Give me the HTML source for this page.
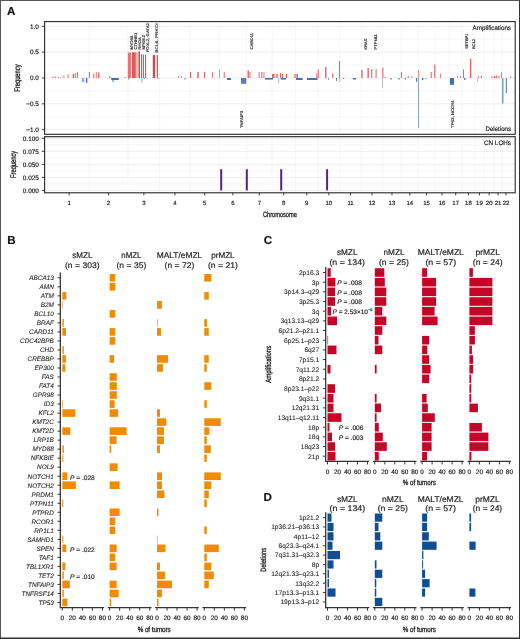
<!DOCTYPE html>
<html><head><meta charset="utf-8"><title>Figure</title>
<style>
html,body{margin:0;padding:0;background:#fff;}
svg{display:block;will-change:transform;}
text{font-family:"Liberation Sans",sans-serif;stroke:#222;stroke-width:0.18px;text-rendering:geometricPrecision;}
text.c{stroke-width:0.32px;}
text.l{stroke-width:0.08px;}
</style></head><body>
<svg width="520" height="639" viewBox="0 0 520 639" fill="#222">
<rect x="0" y="0" width="520" height="639" fill="#fff"/>
<text x="7.2" y="244" font-size="11.6" font-weight="bold" fill="#111">B</text>
<text x="82.3" y="258.4" font-size="8.2" text-anchor="middle" textLength="20.2" lengthAdjust="spacingAndGlyphs">sMZL</text>
<text x="82.3" y="268.2" font-size="8.2" text-anchor="middle" textLength="34.6" lengthAdjust="spacingAndGlyphs">(n = 303)</text>
<text x="131.4" y="258.4" font-size="8.2" text-anchor="middle" textLength="20.2" lengthAdjust="spacingAndGlyphs">nMZL</text>
<text x="131.4" y="268.2" font-size="8.2" text-anchor="middle" textLength="29.8" lengthAdjust="spacingAndGlyphs">(n = 35)</text>
<text x="179.5" y="258.4" font-size="8.2" text-anchor="middle" textLength="45.4" lengthAdjust="spacingAndGlyphs">MALT/eMZL</text>
<text x="179.5" y="268.2" font-size="8.2" text-anchor="middle" textLength="29.8" lengthAdjust="spacingAndGlyphs">(n = 72)</text>
<text x="222.9" y="258.4" font-size="8.2" text-anchor="middle" textLength="23.4" lengthAdjust="spacingAndGlyphs">prMZL</text>
<text x="222.9" y="268.2" font-size="8.2" text-anchor="middle" textLength="29.8" lengthAdjust="spacingAndGlyphs">(n = 21)</text>
<line x1="60.3" y1="272.6" x2="60.3" y2="608.2" stroke="#262626" stroke-width="1.2"/>
<line x1="57.5" y1="277.8" x2="60.3" y2="277.8" stroke="#262626" stroke-width="0.9"/>
<text x="53.8" y="280.1" font-size="6.4" text-anchor="end" font-style="italic" class="l">ABCA13</text>
<line x1="57.5" y1="286.82" x2="60.3" y2="286.82" stroke="#262626" stroke-width="0.9"/>
<text x="53.8" y="289.12" font-size="6.4" text-anchor="end" font-style="italic" class="l">AMN</text>
<line x1="57.5" y1="295.84" x2="60.3" y2="295.84" stroke="#262626" stroke-width="0.9"/>
<text x="53.8" y="298.14" font-size="6.4" text-anchor="end" font-style="italic" class="l">ATM</text>
<line x1="57.5" y1="304.85" x2="60.3" y2="304.85" stroke="#262626" stroke-width="0.9"/>
<text x="53.8" y="307.16" font-size="6.4" text-anchor="end" font-style="italic" class="l">B2M</text>
<line x1="57.5" y1="313.87" x2="60.3" y2="313.87" stroke="#262626" stroke-width="0.9"/>
<text x="53.8" y="316.18" font-size="6.4" text-anchor="end" font-style="italic" class="l">BCL10</text>
<line x1="57.5" y1="322.89" x2="60.3" y2="322.89" stroke="#262626" stroke-width="0.9"/>
<text x="53.8" y="325.19" font-size="6.4" text-anchor="end" font-style="italic" class="l">BRAF</text>
<line x1="57.5" y1="331.91" x2="60.3" y2="331.91" stroke="#262626" stroke-width="0.9"/>
<text x="53.8" y="334.21" font-size="6.4" text-anchor="end" font-style="italic" class="l">CARD11</text>
<line x1="57.5" y1="340.93" x2="60.3" y2="340.93" stroke="#262626" stroke-width="0.9"/>
<text x="53.8" y="343.23" font-size="6.4" text-anchor="end" font-style="italic" class="l">CDC42BPB</text>
<line x1="57.5" y1="349.94" x2="60.3" y2="349.94" stroke="#262626" stroke-width="0.9"/>
<text x="53.8" y="352.25" font-size="6.4" text-anchor="end" font-style="italic" class="l">CHD</text>
<line x1="57.5" y1="358.96" x2="60.3" y2="358.96" stroke="#262626" stroke-width="0.9"/>
<text x="53.8" y="361.27" font-size="6.4" text-anchor="end" font-style="italic" class="l">CREBBP</text>
<line x1="57.5" y1="367.98" x2="60.3" y2="367.98" stroke="#262626" stroke-width="0.9"/>
<text x="53.8" y="370.28" font-size="6.4" text-anchor="end" font-style="italic" class="l">EP300</text>
<line x1="57.5" y1="377" x2="60.3" y2="377" stroke="#262626" stroke-width="0.9"/>
<text x="53.8" y="379.3" font-size="6.4" text-anchor="end" font-style="italic" class="l">FAS</text>
<line x1="57.5" y1="386.02" x2="60.3" y2="386.02" stroke="#262626" stroke-width="0.9"/>
<text x="53.8" y="388.32" font-size="6.4" text-anchor="end" font-style="italic" class="l">FAT4</text>
<line x1="57.5" y1="395.03" x2="60.3" y2="395.03" stroke="#262626" stroke-width="0.9"/>
<text x="53.8" y="397.34" font-size="6.4" text-anchor="end" font-style="italic" class="l">GPR98</text>
<line x1="57.5" y1="404.05" x2="60.3" y2="404.05" stroke="#262626" stroke-width="0.9"/>
<text x="53.8" y="406.36" font-size="6.4" text-anchor="end" font-style="italic" class="l">ID3</text>
<line x1="57.5" y1="413.07" x2="60.3" y2="413.07" stroke="#262626" stroke-width="0.9"/>
<text x="53.8" y="415.37" font-size="6.4" text-anchor="end" font-style="italic" class="l">KFL2</text>
<line x1="57.5" y1="422.09" x2="60.3" y2="422.09" stroke="#262626" stroke-width="0.9"/>
<text x="53.8" y="424.39" font-size="6.4" text-anchor="end" font-style="italic" class="l">KMT2C</text>
<line x1="57.5" y1="431.11" x2="60.3" y2="431.11" stroke="#262626" stroke-width="0.9"/>
<text x="53.8" y="433.41" font-size="6.4" text-anchor="end" font-style="italic" class="l">KMT2D</text>
<line x1="57.5" y1="440.12" x2="60.3" y2="440.12" stroke="#262626" stroke-width="0.9"/>
<text x="53.8" y="442.43" font-size="6.4" text-anchor="end" font-style="italic" class="l">LRP1B</text>
<line x1="57.5" y1="449.14" x2="60.3" y2="449.14" stroke="#262626" stroke-width="0.9"/>
<text x="53.8" y="451.45" font-size="6.4" text-anchor="end" font-style="italic" class="l">MYD88</text>
<line x1="57.5" y1="458.16" x2="60.3" y2="458.16" stroke="#262626" stroke-width="0.9"/>
<text x="53.8" y="460.46" font-size="6.4" text-anchor="end" font-style="italic" class="l">NFKBIE</text>
<line x1="57.5" y1="467.18" x2="60.3" y2="467.18" stroke="#262626" stroke-width="0.9"/>
<text x="53.8" y="469.48" font-size="6.4" text-anchor="end" font-style="italic" class="l">NOL9</text>
<line x1="57.5" y1="476.2" x2="60.3" y2="476.2" stroke="#262626" stroke-width="0.9"/>
<text x="53.8" y="478.5" font-size="6.4" text-anchor="end" font-style="italic" class="l">NOTCH1</text>
<line x1="57.5" y1="485.21" x2="60.3" y2="485.21" stroke="#262626" stroke-width="0.9"/>
<text x="53.8" y="487.52" font-size="6.4" text-anchor="end" font-style="italic" class="l">NOTCH2</text>
<line x1="57.5" y1="494.23" x2="60.3" y2="494.23" stroke="#262626" stroke-width="0.9"/>
<text x="53.8" y="496.54" font-size="6.4" text-anchor="end" font-style="italic" class="l">PRDM1</text>
<line x1="57.5" y1="503.25" x2="60.3" y2="503.25" stroke="#262626" stroke-width="0.9"/>
<text x="53.8" y="505.55" font-size="6.4" text-anchor="end" font-style="italic" class="l">PTPN11</text>
<line x1="57.5" y1="512.27" x2="60.3" y2="512.27" stroke="#262626" stroke-width="0.9"/>
<text x="53.8" y="514.57" font-size="6.4" text-anchor="end" font-style="italic" class="l">PTPRD</text>
<line x1="57.5" y1="521.29" x2="60.3" y2="521.29" stroke="#262626" stroke-width="0.9"/>
<text x="53.8" y="523.59" font-size="6.4" text-anchor="end" font-style="italic" class="l">RCOR1</text>
<line x1="57.5" y1="530.3" x2="60.3" y2="530.3" stroke="#262626" stroke-width="0.9"/>
<text x="53.8" y="532.61" font-size="6.4" text-anchor="end" font-style="italic" class="l">RP1L1</text>
<line x1="57.5" y1="539.32" x2="60.3" y2="539.32" stroke="#262626" stroke-width="0.9"/>
<text x="53.8" y="541.63" font-size="6.4" text-anchor="end" font-style="italic" class="l">SAMHD1</text>
<line x1="57.5" y1="548.34" x2="60.3" y2="548.34" stroke="#262626" stroke-width="0.9"/>
<text x="53.8" y="550.64" font-size="6.4" text-anchor="end" font-style="italic" class="l">SPEN</text>
<line x1="57.5" y1="557.36" x2="60.3" y2="557.36" stroke="#262626" stroke-width="0.9"/>
<text x="53.8" y="559.66" font-size="6.4" text-anchor="end" font-style="italic" class="l">TAF1</text>
<line x1="57.5" y1="566.38" x2="60.3" y2="566.38" stroke="#262626" stroke-width="0.9"/>
<text x="53.8" y="568.68" font-size="6.4" text-anchor="end" font-style="italic" class="l">TBL1XR1</text>
<line x1="57.5" y1="575.39" x2="60.3" y2="575.39" stroke="#262626" stroke-width="0.9"/>
<text x="53.8" y="577.7" font-size="6.4" text-anchor="end" font-style="italic" class="l">TET2</text>
<line x1="57.5" y1="584.41" x2="60.3" y2="584.41" stroke="#262626" stroke-width="0.9"/>
<text x="53.8" y="586.72" font-size="6.4" text-anchor="end" font-style="italic" class="l">TNFAIP3</text>
<line x1="57.5" y1="593.43" x2="60.3" y2="593.43" stroke="#262626" stroke-width="0.9"/>
<text x="53.8" y="595.73" font-size="6.4" text-anchor="end" font-style="italic" class="l">TNFRSF14</text>
<line x1="57.5" y1="602.45" x2="60.3" y2="602.45" stroke="#262626" stroke-width="0.9"/>
<text x="53.8" y="604.75" font-size="6.4" text-anchor="end" font-style="italic" class="l">TP53</text>
<rect x="62.3" y="292.04" width="4" height="7.6" fill="#EF8B06"/>
<rect x="62.3" y="301.05" width="0.6" height="7.6" fill="#EF8B06"/>
<rect x="62.3" y="319.09" width="1.5" height="7.6" fill="#EF8B06"/>
<rect x="62.3" y="328.11" width="3.7" height="7.6" fill="#EF8B06"/>
<rect x="62.3" y="346.14" width="1.5" height="7.6" fill="#EF8B06"/>
<rect x="62.3" y="355.16" width="3.7" height="7.6" fill="#EF8B06"/>
<rect x="62.3" y="364.18" width="3" height="7.6" fill="#EF8B06"/>
<rect x="62.3" y="400.25" width="0.6" height="7.6" fill="#EF8B06"/>
<rect x="62.3" y="409.27" width="13" height="7.6" fill="#EF8B06"/>
<rect x="62.3" y="427.31" width="8" height="7.6" fill="#EF8B06"/>
<rect x="62.3" y="445.34" width="1.5" height="7.6" fill="#EF8B06"/>
<rect x="62.3" y="454.36" width="1" height="7.6" fill="#EF8B06"/>
<rect x="62.3" y="472.4" width="5" height="7.6" fill="#EF8B06"/>
<rect x="62.3" y="481.41" width="13.5" height="7.6" fill="#EF8B06"/>
<rect x="62.3" y="499.45" width="1" height="7.6" fill="#EF8B06"/>
<rect x="62.3" y="535.52" width="1" height="7.6" fill="#EF8B06"/>
<rect x="62.3" y="544.54" width="4" height="7.6" fill="#EF8B06"/>
<rect x="62.3" y="562.58" width="3" height="7.6" fill="#EF8B06"/>
<rect x="62.3" y="571.59" width="1.5" height="7.6" fill="#EF8B06"/>
<rect x="62.3" y="580.61" width="7.5" height="7.6" fill="#EF8B06"/>
<rect x="62.3" y="589.63" width="1.5" height="7.6" fill="#EF8B06"/>
<rect x="62.3" y="598.65" width="5" height="7.6" fill="#EF8B06"/>
<rect x="109.63" y="274" width="5.6" height="7.6" fill="#EF8B06"/>
<rect x="109.63" y="283.02" width="5.6" height="7.6" fill="#EF8B06"/>
<rect x="109.63" y="310.07" width="5.6" height="7.6" fill="#EF8B06"/>
<rect x="109.63" y="328.11" width="5.6" height="7.6" fill="#EF8B06"/>
<rect x="109.63" y="337.13" width="5.6" height="7.6" fill="#EF8B06"/>
<rect x="109.63" y="355.16" width="4.5" height="7.6" fill="#EF8B06"/>
<rect x="109.63" y="373.2" width="7.2" height="7.6" fill="#EF8B06"/>
<rect x="109.63" y="382.22" width="7.2" height="7.6" fill="#EF8B06"/>
<rect x="109.63" y="391.23" width="7.2" height="7.6" fill="#EF8B06"/>
<rect x="109.63" y="400.25" width="5" height="7.6" fill="#EF8B06"/>
<rect x="109.63" y="409.27" width="8.5" height="7.6" fill="#EF8B06"/>
<rect x="109.63" y="427.31" width="17" height="7.6" fill="#EF8B06"/>
<rect x="109.63" y="436.32" width="7" height="7.6" fill="#EF8B06"/>
<rect x="109.63" y="445.34" width="1.5" height="7.6" fill="#EF8B06"/>
<rect x="109.63" y="463.38" width="8" height="7.6" fill="#EF8B06"/>
<rect x="109.63" y="481.41" width="10" height="7.6" fill="#EF8B06"/>
<rect x="109.63" y="508.47" width="10" height="7.6" fill="#EF8B06"/>
<rect x="109.63" y="517.49" width="5.5" height="7.6" fill="#EF8B06"/>
<rect x="109.63" y="526.5" width="5.5" height="7.6" fill="#EF8B06"/>
<rect x="109.63" y="544.54" width="7" height="7.6" fill="#EF8B06"/>
<rect x="109.63" y="553.56" width="5.5" height="7.6" fill="#EF8B06"/>
<rect x="109.63" y="562.58" width="7" height="7.6" fill="#EF8B06"/>
<rect x="109.63" y="580.61" width="7" height="7.6" fill="#EF8B06"/>
<rect x="109.63" y="589.63" width="9" height="7.6" fill="#EF8B06"/>
<rect x="109.63" y="598.65" width="1.5" height="7.6" fill="#EF8B06"/>
<rect x="156.96" y="301.05" width="5" height="7.6" fill="#EF8B06"/>
<rect x="156.96" y="319.09" width="0.6" height="7.6" fill="#EF8B06"/>
<rect x="156.96" y="328.11" width="4" height="7.6" fill="#EF8B06"/>
<rect x="156.96" y="355.16" width="11" height="7.6" fill="#EF8B06"/>
<rect x="156.96" y="364.18" width="6" height="7.6" fill="#EF8B06"/>
<rect x="156.96" y="409.27" width="3" height="7.6" fill="#EF8B06"/>
<rect x="156.96" y="418.29" width="9.4" height="7.6" fill="#EF8B06"/>
<rect x="156.96" y="427.31" width="7" height="7.6" fill="#EF8B06"/>
<rect x="156.96" y="436.32" width="7" height="7.6" fill="#EF8B06"/>
<rect x="156.96" y="445.34" width="3" height="7.6" fill="#EF8B06"/>
<rect x="156.96" y="472.4" width="5" height="7.6" fill="#EF8B06"/>
<rect x="156.96" y="481.41" width="5" height="7.6" fill="#EF8B06"/>
<rect x="156.96" y="490.43" width="7.5" height="7.6" fill="#EF8B06"/>
<rect x="156.96" y="508.47" width="1.5" height="7.6" fill="#EF8B06"/>
<rect x="156.96" y="535.52" width="0.6" height="7.6" fill="#EF8B06"/>
<rect x="156.96" y="544.54" width="8.5" height="7.6" fill="#EF8B06"/>
<rect x="156.96" y="562.58" width="3" height="7.6" fill="#EF8B06"/>
<rect x="156.96" y="571.59" width="8" height="7.6" fill="#EF8B06"/>
<rect x="156.96" y="580.61" width="15" height="7.6" fill="#EF8B06"/>
<rect x="156.96" y="589.63" width="5" height="7.6" fill="#EF8B06"/>
<rect x="156.96" y="598.65" width="1.5" height="7.6" fill="#EF8B06"/>
<rect x="204.29" y="274" width="7" height="7.6" fill="#EF8B06"/>
<rect x="204.29" y="292.04" width="4.5" height="7.6" fill="#EF8B06"/>
<rect x="204.29" y="319.09" width="2.7" height="7.6" fill="#EF8B06"/>
<rect x="204.29" y="328.11" width="4.5" height="7.6" fill="#EF8B06"/>
<rect x="204.29" y="355.16" width="4.5" height="7.6" fill="#EF8B06"/>
<rect x="204.29" y="364.18" width="2.5" height="7.6" fill="#EF8B06"/>
<rect x="204.29" y="382.22" width="7" height="7.6" fill="#EF8B06"/>
<rect x="204.29" y="400.25" width="2.5" height="7.6" fill="#EF8B06"/>
<rect x="204.29" y="418.29" width="16.5" height="7.6" fill="#EF8B06"/>
<rect x="204.29" y="427.31" width="5" height="7.6" fill="#EF8B06"/>
<rect x="204.29" y="436.32" width="2.5" height="7.6" fill="#EF8B06"/>
<rect x="204.29" y="445.34" width="6.5" height="7.6" fill="#EF8B06"/>
<rect x="204.29" y="454.36" width="2.5" height="7.6" fill="#EF8B06"/>
<rect x="204.29" y="472.4" width="16.5" height="7.6" fill="#EF8B06"/>
<rect x="204.29" y="481.41" width="7" height="7.6" fill="#EF8B06"/>
<rect x="204.29" y="490.43" width="4.5" height="7.6" fill="#EF8B06"/>
<rect x="204.29" y="499.45" width="2.5" height="7.6" fill="#EF8B06"/>
<rect x="204.29" y="526.5" width="2.5" height="7.6" fill="#EF8B06"/>
<rect x="204.29" y="544.54" width="14.5" height="7.6" fill="#EF8B06"/>
<rect x="204.29" y="553.56" width="2.5" height="7.6" fill="#EF8B06"/>
<rect x="204.29" y="562.58" width="7" height="7.6" fill="#EF8B06"/>
<rect x="204.29" y="571.59" width="9.5" height="7.6" fill="#EF8B06"/>
<rect x="204.29" y="580.61" width="4.5" height="7.6" fill="#EF8B06"/>
<line x1="60.5" y1="607.6" x2="104.12" y2="607.6" stroke="#333" stroke-width="1.3"/>
<line x1="62.3" y1="607.6" x2="62.3" y2="610.6" stroke="#333" stroke-width="1"/>
<text x="62.3" y="619.8" font-size="6.4" text-anchor="middle">0</text>
<line x1="72.33" y1="607.6" x2="72.33" y2="610.6" stroke="#333" stroke-width="1"/>
<text x="72.33" y="619.8" font-size="6.4" text-anchor="middle">20</text>
<line x1="82.36" y1="607.6" x2="82.36" y2="610.6" stroke="#333" stroke-width="1"/>
<text x="82.36" y="619.8" font-size="6.4" text-anchor="middle">40</text>
<line x1="92.39" y1="607.6" x2="92.39" y2="610.6" stroke="#333" stroke-width="1"/>
<text x="92.39" y="619.8" font-size="6.4" text-anchor="middle">60</text>
<line x1="102.42" y1="607.6" x2="102.42" y2="610.6" stroke="#333" stroke-width="1"/>
<text x="102.42" y="619.8" font-size="6.4" text-anchor="middle">80</text>
<line x1="107.83" y1="607.6" x2="151.45" y2="607.6" stroke="#333" stroke-width="1.3"/>
<line x1="109.63" y1="607.6" x2="109.63" y2="610.6" stroke="#333" stroke-width="1"/>
<text x="109.63" y="619.8" font-size="6.4" text-anchor="middle">0</text>
<line x1="119.66" y1="607.6" x2="119.66" y2="610.6" stroke="#333" stroke-width="1"/>
<text x="119.66" y="619.8" font-size="6.4" text-anchor="middle">20</text>
<line x1="129.69" y1="607.6" x2="129.69" y2="610.6" stroke="#333" stroke-width="1"/>
<text x="129.69" y="619.8" font-size="6.4" text-anchor="middle">40</text>
<line x1="139.72" y1="607.6" x2="139.72" y2="610.6" stroke="#333" stroke-width="1"/>
<text x="139.72" y="619.8" font-size="6.4" text-anchor="middle">60</text>
<line x1="149.75" y1="607.6" x2="149.75" y2="610.6" stroke="#333" stroke-width="1"/>
<text x="149.75" y="619.8" font-size="6.4" text-anchor="middle">80</text>
<line x1="155.16" y1="607.6" x2="198.78" y2="607.6" stroke="#333" stroke-width="1.3"/>
<line x1="156.96" y1="607.6" x2="156.96" y2="610.6" stroke="#333" stroke-width="1"/>
<text x="156.96" y="619.8" font-size="6.4" text-anchor="middle">0</text>
<line x1="166.99" y1="607.6" x2="166.99" y2="610.6" stroke="#333" stroke-width="1"/>
<text x="166.99" y="619.8" font-size="6.4" text-anchor="middle">20</text>
<line x1="177.02" y1="607.6" x2="177.02" y2="610.6" stroke="#333" stroke-width="1"/>
<text x="177.02" y="619.8" font-size="6.4" text-anchor="middle">40</text>
<line x1="187.05" y1="607.6" x2="187.05" y2="610.6" stroke="#333" stroke-width="1"/>
<text x="187.05" y="619.8" font-size="6.4" text-anchor="middle">60</text>
<line x1="197.08" y1="607.6" x2="197.08" y2="610.6" stroke="#333" stroke-width="1"/>
<text x="197.08" y="619.8" font-size="6.4" text-anchor="middle">80</text>
<line x1="202.49" y1="607.6" x2="246.11" y2="607.6" stroke="#333" stroke-width="1.3"/>
<line x1="204.29" y1="607.6" x2="204.29" y2="610.6" stroke="#333" stroke-width="1"/>
<text x="204.29" y="619.8" font-size="6.4" text-anchor="middle">0</text>
<line x1="214.32" y1="607.6" x2="214.32" y2="610.6" stroke="#333" stroke-width="1"/>
<text x="214.32" y="619.8" font-size="6.4" text-anchor="middle">20</text>
<line x1="224.35" y1="607.6" x2="224.35" y2="610.6" stroke="#333" stroke-width="1"/>
<text x="224.35" y="619.8" font-size="6.4" text-anchor="middle">40</text>
<line x1="234.38" y1="607.6" x2="234.38" y2="610.6" stroke="#333" stroke-width="1"/>
<text x="234.38" y="619.8" font-size="6.4" text-anchor="middle">60</text>
<line x1="244.41" y1="607.6" x2="244.41" y2="610.6" stroke="#333" stroke-width="1"/>
<text x="244.41" y="619.8" font-size="6.4" text-anchor="middle">80</text>
<text x="154.2" y="631.5" font-size="7.6" text-anchor="middle" textLength="33" lengthAdjust="spacingAndGlyphs" class="c">% of tumors</text>
<text x="70" y="480" font-size="6.6"><tspan font-style="italic">P</tspan> = .028</text>
<text x="70" y="552" font-size="6.6"><tspan font-style="italic">P</tspan> = .022</text>
<text x="70" y="579" font-size="6.6"><tspan font-style="italic">P</tspan> = .010</text>
<text x="263.7" y="244" font-size="11.6" font-weight="bold" fill="#111">C</text>
<text x="347.2" y="255.2" font-size="8.2" text-anchor="middle" textLength="20.6" lengthAdjust="spacingAndGlyphs">sMZL</text>
<text x="347.2" y="265" font-size="8.2" text-anchor="middle" textLength="35.6" lengthAdjust="spacingAndGlyphs">(n = 134)</text>
<text x="394" y="255.2" font-size="8.2" text-anchor="middle" textLength="21" lengthAdjust="spacingAndGlyphs">nMZL</text>
<text x="394" y="265" font-size="8.2" text-anchor="middle" textLength="30" lengthAdjust="spacingAndGlyphs">(n = 25)</text>
<text x="440.8" y="255.2" font-size="8.2" text-anchor="middle" textLength="46.1" lengthAdjust="spacingAndGlyphs">MALT/eMZL</text>
<text x="440.8" y="265" font-size="8.2" text-anchor="middle" textLength="30.8" lengthAdjust="spacingAndGlyphs">(n = 57)</text>
<text x="487.7" y="255.2" font-size="8.2" text-anchor="middle" textLength="24.6" lengthAdjust="spacingAndGlyphs">prMZL</text>
<text x="487.7" y="265" font-size="8.2" text-anchor="middle" textLength="29.8" lengthAdjust="spacingAndGlyphs">(n = 24)</text>
<line x1="325.7" y1="267" x2="325.7" y2="462" stroke="#262626" stroke-width="1.2"/>
<line x1="322.9" y1="272.5" x2="325.7" y2="272.5" stroke="#262626" stroke-width="0.9"/>
<text x="319.2" y="274.89" font-size="6.65" text-anchor="end" class="l">2p16.3</text>
<line x1="322.9" y1="282.17" x2="325.7" y2="282.17" stroke="#262626" stroke-width="0.9"/>
<text x="319.2" y="284.56" font-size="6.65" text-anchor="end" class="l">3p</text>
<line x1="322.9" y1="291.84" x2="325.7" y2="291.84" stroke="#262626" stroke-width="0.9"/>
<text x="319.2" y="294.23" font-size="6.65" text-anchor="end" class="l">3p14.3&#8211;q29</text>
<line x1="322.9" y1="301.51" x2="325.7" y2="301.51" stroke="#262626" stroke-width="0.9"/>
<text x="319.2" y="303.9" font-size="6.65" text-anchor="end" class="l">3p25.3</text>
<line x1="322.9" y1="311.18" x2="325.7" y2="311.18" stroke="#262626" stroke-width="0.9"/>
<text x="319.2" y="313.57" font-size="6.65" text-anchor="end" class="l">3q</text>
<line x1="322.9" y1="320.85" x2="325.7" y2="320.85" stroke="#262626" stroke-width="0.9"/>
<text x="319.2" y="323.24" font-size="6.65" text-anchor="end" class="l">3q13.13&#8211;q29</text>
<line x1="322.9" y1="330.52" x2="325.7" y2="330.52" stroke="#262626" stroke-width="0.9"/>
<text x="319.2" y="332.91" font-size="6.65" text-anchor="end" class="l">6p21.2&#8211;p21.1</text>
<line x1="322.9" y1="340.19" x2="325.7" y2="340.19" stroke="#262626" stroke-width="0.9"/>
<text x="319.2" y="342.58" font-size="6.65" text-anchor="end" class="l">6p25.1&#8211;p23</text>
<line x1="322.9" y1="349.86" x2="325.7" y2="349.86" stroke="#262626" stroke-width="0.9"/>
<text x="319.2" y="352.25" font-size="6.65" text-anchor="end" class="l">6q27</text>
<line x1="322.9" y1="359.53" x2="325.7" y2="359.53" stroke="#262626" stroke-width="0.9"/>
<text x="319.2" y="361.92" font-size="6.65" text-anchor="end" class="l">7p15.1</text>
<line x1="322.9" y1="369.2" x2="325.7" y2="369.2" stroke="#262626" stroke-width="0.9"/>
<text x="319.2" y="371.59" font-size="6.65" text-anchor="end" class="l">7q11.22</text>
<line x1="322.9" y1="378.87" x2="325.7" y2="378.87" stroke="#262626" stroke-width="0.9"/>
<text x="319.2" y="381.26" font-size="6.65" text-anchor="end" class="l">8p21.2</text>
<line x1="322.9" y1="388.54" x2="325.7" y2="388.54" stroke="#262626" stroke-width="0.9"/>
<text x="319.2" y="390.93" font-size="6.65" text-anchor="end" class="l">8p23.1&#8211;p22</text>
<line x1="322.9" y1="398.21" x2="325.7" y2="398.21" stroke="#262626" stroke-width="0.9"/>
<text x="319.2" y="400.6" font-size="6.65" text-anchor="end" class="l">9q31.1</text>
<line x1="322.9" y1="407.88" x2="325.7" y2="407.88" stroke="#262626" stroke-width="0.9"/>
<text x="319.2" y="410.27" font-size="6.65" text-anchor="end" class="l">12q21.31</text>
<line x1="322.9" y1="417.55" x2="325.7" y2="417.55" stroke="#262626" stroke-width="0.9"/>
<text x="319.2" y="419.94" font-size="6.65" text-anchor="end" class="l">13q11&#8211;q12.11</text>
<line x1="322.9" y1="427.22" x2="325.7" y2="427.22" stroke="#262626" stroke-width="0.9"/>
<text x="319.2" y="429.61" font-size="6.65" text-anchor="end" class="l">18p</text>
<line x1="322.9" y1="436.89" x2="325.7" y2="436.89" stroke="#262626" stroke-width="0.9"/>
<text x="319.2" y="439.28" font-size="6.65" text-anchor="end" class="l">18q</text>
<line x1="322.9" y1="446.56" x2="325.7" y2="446.56" stroke="#262626" stroke-width="0.9"/>
<text x="319.2" y="448.95" font-size="6.65" text-anchor="end" class="l">18q23</text>
<line x1="322.9" y1="456.23" x2="325.7" y2="456.23" stroke="#262626" stroke-width="0.9"/>
<text x="319.2" y="458.62" font-size="6.65" text-anchor="end" class="l">21p</text>
<rect x="327.5" y="268.2" width="3.2" height="8.6" fill="#C30528"/>
<rect x="327.5" y="277.87" width="7.8" height="8.6" fill="#C30528"/>
<rect x="327.5" y="287.54" width="7.5" height="8.6" fill="#C30528"/>
<rect x="327.5" y="297.21" width="7.5" height="8.6" fill="#C30528"/>
<rect x="327.5" y="306.88" width="3.5" height="8.6" fill="#C30528"/>
<rect x="327.5" y="316.55" width="9.5" height="8.6" fill="#C30528"/>
<rect x="327.5" y="335.89" width="0.6" height="8.6" fill="#C30528"/>
<rect x="327.5" y="345.56" width="9" height="8.6" fill="#C30528"/>
<rect x="327.5" y="364.9" width="3" height="8.6" fill="#C30528"/>
<rect x="327.5" y="384.24" width="7.5" height="8.6" fill="#C30528"/>
<rect x="327.5" y="393.91" width="6" height="8.6" fill="#C30528"/>
<rect x="327.5" y="403.58" width="6" height="8.6" fill="#C30528"/>
<rect x="327.5" y="413.25" width="14" height="8.6" fill="#C30528"/>
<rect x="327.5" y="422.92" width="2" height="8.6" fill="#C30528"/>
<rect x="327.5" y="432.59" width="4.5" height="8.6" fill="#C30528"/>
<rect x="327.5" y="442.26" width="7.5" height="8.6" fill="#C30528"/>
<rect x="327.5" y="451.93" width="8" height="8.6" fill="#C30528"/>
<rect x="374.8" y="268.2" width="9.5" height="8.6" fill="#C30528"/>
<rect x="374.8" y="277.87" width="10" height="8.6" fill="#C30528"/>
<rect x="374.8" y="287.54" width="11.5" height="8.6" fill="#C30528"/>
<rect x="374.8" y="297.21" width="11.5" height="8.6" fill="#C30528"/>
<rect x="374.8" y="306.88" width="7.5" height="8.6" fill="#C30528"/>
<rect x="374.8" y="316.55" width="11.5" height="8.6" fill="#C30528"/>
<rect x="374.8" y="326.22" width="7.5" height="8.6" fill="#C30528"/>
<rect x="374.8" y="335.89" width="3.7" height="8.6" fill="#C30528"/>
<rect x="374.8" y="345.56" width="7.5" height="8.6" fill="#C30528"/>
<rect x="374.8" y="364.9" width="1.8" height="8.6" fill="#C30528"/>
<rect x="374.8" y="393.91" width="1.8" height="8.6" fill="#C30528"/>
<rect x="374.8" y="403.58" width="6.2" height="8.6" fill="#C30528"/>
<rect x="374.8" y="413.25" width="1.8" height="8.6" fill="#C30528"/>
<rect x="374.8" y="422.92" width="4" height="8.6" fill="#C30528"/>
<rect x="374.8" y="432.59" width="8" height="8.6" fill="#C30528"/>
<rect x="374.8" y="442.26" width="12" height="8.6" fill="#C30528"/>
<rect x="374.8" y="451.93" width="4" height="8.6" fill="#C30528"/>
<rect x="422.1" y="268.2" width="5" height="8.6" fill="#C30528"/>
<rect x="422.1" y="277.87" width="14" height="8.6" fill="#C30528"/>
<rect x="422.1" y="287.54" width="14" height="8.6" fill="#C30528"/>
<rect x="422.1" y="297.21" width="14" height="8.6" fill="#C30528"/>
<rect x="422.1" y="306.88" width="12.5" height="8.6" fill="#C30528"/>
<rect x="422.1" y="316.55" width="15.5" height="8.6" fill="#C30528"/>
<rect x="422.1" y="335.89" width="7" height="8.6" fill="#C30528"/>
<rect x="422.1" y="345.56" width="5.2" height="8.6" fill="#C30528"/>
<rect x="422.1" y="355.23" width="7" height="8.6" fill="#C30528"/>
<rect x="422.1" y="364.9" width="8.5" height="8.6" fill="#C30528"/>
<rect x="422.1" y="374.57" width="7" height="8.6" fill="#C30528"/>
<rect x="422.1" y="393.91" width="4.5" height="8.6" fill="#C30528"/>
<rect x="422.1" y="403.58" width="5.7" height="8.6" fill="#C30528"/>
<rect x="422.1" y="413.25" width="12.7" height="8.6" fill="#C30528"/>
<rect x="422.1" y="422.92" width="9.5" height="8.6" fill="#C30528"/>
<rect x="422.1" y="432.59" width="9.5" height="8.6" fill="#C30528"/>
<rect x="422.1" y="442.26" width="9.5" height="8.6" fill="#C30528"/>
<rect x="422.1" y="451.93" width="5" height="8.6" fill="#C30528"/>
<rect x="469.4" y="268.2" width="3.5" height="8.6" fill="#C30528"/>
<rect x="469.4" y="277.87" width="23" height="8.6" fill="#C30528"/>
<rect x="469.4" y="287.54" width="23" height="8.6" fill="#C30528"/>
<rect x="469.4" y="297.21" width="23" height="8.6" fill="#C30528"/>
<rect x="469.4" y="306.88" width="23" height="8.6" fill="#C30528"/>
<rect x="469.4" y="316.55" width="23" height="8.6" fill="#C30528"/>
<rect x="469.4" y="326.22" width="5.5" height="8.6" fill="#C30528"/>
<rect x="469.4" y="335.89" width="5.5" height="8.6" fill="#C30528"/>
<rect x="469.4" y="345.56" width="2.5" height="8.6" fill="#C30528"/>
<rect x="469.4" y="355.23" width="3.7" height="8.6" fill="#C30528"/>
<rect x="469.4" y="364.9" width="3.7" height="8.6" fill="#C30528"/>
<rect x="469.4" y="374.57" width="1.8" height="8.6" fill="#C30528"/>
<rect x="469.4" y="384.24" width="1.8" height="8.6" fill="#C30528"/>
<rect x="469.4" y="393.91" width="1.8" height="8.6" fill="#C30528"/>
<rect x="469.4" y="403.58" width="8.5" height="8.6" fill="#C30528"/>
<rect x="469.4" y="422.92" width="12.5" height="8.6" fill="#C30528"/>
<rect x="469.4" y="432.59" width="19" height="8.6" fill="#C30528"/>
<rect x="469.4" y="442.26" width="19" height="8.6" fill="#C30528"/>
<rect x="469.4" y="451.93" width="2" height="8.6" fill="#C30528"/>
<line x1="325.7" y1="461.4" x2="369.2" y2="461.4" stroke="#333" stroke-width="1.3"/>
<line x1="327.5" y1="461.4" x2="327.5" y2="464.4" stroke="#333" stroke-width="1"/>
<text x="327.5" y="473.6" font-size="6.4" text-anchor="middle">0</text>
<line x1="337.5" y1="461.4" x2="337.5" y2="464.4" stroke="#333" stroke-width="1"/>
<text x="337.5" y="473.6" font-size="6.4" text-anchor="middle">20</text>
<line x1="347.5" y1="461.4" x2="347.5" y2="464.4" stroke="#333" stroke-width="1"/>
<text x="347.5" y="473.6" font-size="6.4" text-anchor="middle">40</text>
<line x1="357.5" y1="461.4" x2="357.5" y2="464.4" stroke="#333" stroke-width="1"/>
<text x="357.5" y="473.6" font-size="6.4" text-anchor="middle">60</text>
<line x1="367.5" y1="461.4" x2="367.5" y2="464.4" stroke="#333" stroke-width="1"/>
<text x="367.5" y="473.6" font-size="6.4" text-anchor="middle">80</text>
<line x1="373" y1="461.4" x2="416.5" y2="461.4" stroke="#333" stroke-width="1.3"/>
<line x1="374.8" y1="461.4" x2="374.8" y2="464.4" stroke="#333" stroke-width="1"/>
<text x="374.8" y="473.6" font-size="6.4" text-anchor="middle">0</text>
<line x1="384.8" y1="461.4" x2="384.8" y2="464.4" stroke="#333" stroke-width="1"/>
<text x="384.8" y="473.6" font-size="6.4" text-anchor="middle">20</text>
<line x1="394.8" y1="461.4" x2="394.8" y2="464.4" stroke="#333" stroke-width="1"/>
<text x="394.8" y="473.6" font-size="6.4" text-anchor="middle">40</text>
<line x1="404.8" y1="461.4" x2="404.8" y2="464.4" stroke="#333" stroke-width="1"/>
<text x="404.8" y="473.6" font-size="6.4" text-anchor="middle">60</text>
<line x1="414.8" y1="461.4" x2="414.8" y2="464.4" stroke="#333" stroke-width="1"/>
<text x="414.8" y="473.6" font-size="6.4" text-anchor="middle">80</text>
<line x1="420.3" y1="461.4" x2="463.8" y2="461.4" stroke="#333" stroke-width="1.3"/>
<line x1="422.1" y1="461.4" x2="422.1" y2="464.4" stroke="#333" stroke-width="1"/>
<text x="422.1" y="473.6" font-size="6.4" text-anchor="middle">0</text>
<line x1="432.1" y1="461.4" x2="432.1" y2="464.4" stroke="#333" stroke-width="1"/>
<text x="432.1" y="473.6" font-size="6.4" text-anchor="middle">20</text>
<line x1="442.1" y1="461.4" x2="442.1" y2="464.4" stroke="#333" stroke-width="1"/>
<text x="442.1" y="473.6" font-size="6.4" text-anchor="middle">40</text>
<line x1="452.1" y1="461.4" x2="452.1" y2="464.4" stroke="#333" stroke-width="1"/>
<text x="452.1" y="473.6" font-size="6.4" text-anchor="middle">60</text>
<line x1="462.1" y1="461.4" x2="462.1" y2="464.4" stroke="#333" stroke-width="1"/>
<text x="462.1" y="473.6" font-size="6.4" text-anchor="middle">80</text>
<line x1="467.6" y1="461.4" x2="511.1" y2="461.4" stroke="#333" stroke-width="1.3"/>
<line x1="469.4" y1="461.4" x2="469.4" y2="464.4" stroke="#333" stroke-width="1"/>
<text x="469.4" y="473.6" font-size="6.4" text-anchor="middle">0</text>
<line x1="479.4" y1="461.4" x2="479.4" y2="464.4" stroke="#333" stroke-width="1"/>
<text x="479.4" y="473.6" font-size="6.4" text-anchor="middle">20</text>
<line x1="489.4" y1="461.4" x2="489.4" y2="464.4" stroke="#333" stroke-width="1"/>
<text x="489.4" y="473.6" font-size="6.4" text-anchor="middle">40</text>
<line x1="499.4" y1="461.4" x2="499.4" y2="464.4" stroke="#333" stroke-width="1"/>
<text x="499.4" y="473.6" font-size="6.4" text-anchor="middle">60</text>
<line x1="509.4" y1="461.4" x2="509.4" y2="464.4" stroke="#333" stroke-width="1"/>
<text x="509.4" y="473.6" font-size="6.4" text-anchor="middle">80</text>
<text x="419.3" y="485.3" font-size="7.6" text-anchor="middle" textLength="33" lengthAdjust="spacingAndGlyphs" class="c">% of tumors</text>
<text class="c" transform="translate(270.6 364.3) rotate(-90)" font-size="7.8" text-anchor="middle" textLength="37" lengthAdjust="spacingAndGlyphs">Amplifications</text>
<text x="337.2" y="285" font-size="6.6"><tspan font-style="italic">P</tspan> = .008</text>
<text x="337.2" y="294.7" font-size="6.6"><tspan font-style="italic">P</tspan> = .008</text>
<text x="337.2" y="304.3" font-size="6.6"><tspan font-style="italic">P</tspan> = .008</text>
<text x="338.7" y="429.8" font-size="6.6"><tspan font-style="italic">P</tspan> = .006</text>
<text x="338.7" y="439.5" font-size="6.6"><tspan font-style="italic">P</tspan> = .003</text>
<text x="332.5" y="314.0" font-size="6.5"><tspan font-style="italic">P</tspan> = 2.53&#215;10<tspan font-size="4" dy="-2.6">&#8722;5</tspan></text>
<text x="263.5" y="500.6" font-size="11.6" font-weight="bold" fill="#111">D</text>
<text x="347.4" y="501.6" font-size="8.2" text-anchor="middle" textLength="20.2" lengthAdjust="spacingAndGlyphs">sMZL</text>
<text x="347.4" y="510.8" font-size="8.2" text-anchor="middle" textLength="35.6" lengthAdjust="spacingAndGlyphs">(n = 134)</text>
<text x="392.8" y="501.6" font-size="8.2" text-anchor="middle" textLength="21.8" lengthAdjust="spacingAndGlyphs">nMZL</text>
<text x="392.8" y="510.8" font-size="8.2" text-anchor="middle" textLength="30.2" lengthAdjust="spacingAndGlyphs">(n = 25)</text>
<text x="440.6" y="501.6" font-size="8.2" text-anchor="middle" textLength="45.8" lengthAdjust="spacingAndGlyphs">MALT/eMZL</text>
<text x="440.6" y="510.8" font-size="8.2" text-anchor="middle" textLength="30.8" lengthAdjust="spacingAndGlyphs">(n = 57)</text>
<text x="487.5" y="501.6" font-size="8.2" text-anchor="middle" textLength="24.6" lengthAdjust="spacingAndGlyphs">prMZL</text>
<text x="487.5" y="510.8" font-size="8.2" text-anchor="middle" textLength="29.4" lengthAdjust="spacingAndGlyphs">(n = 24)</text>
<line x1="325.7" y1="512.2" x2="325.7" y2="608.2" stroke="#262626" stroke-width="1.2"/>
<line x1="322.9" y1="517.6" x2="325.7" y2="517.6" stroke="#262626" stroke-width="0.9"/>
<text x="319.2" y="519.99" font-size="6.65" text-anchor="end" class="l">1p21.2</text>
<line x1="322.9" y1="526.97" x2="325.7" y2="526.97" stroke="#262626" stroke-width="0.9"/>
<text x="319.2" y="529.36" font-size="6.65" text-anchor="end" class="l">1p36.21&#8211;p36.13</text>
<line x1="322.9" y1="536.34" x2="325.7" y2="536.34" stroke="#262626" stroke-width="0.9"/>
<text x="319.2" y="538.73" font-size="6.65" text-anchor="end" class="l">4p11&#8211;12</text>
<line x1="322.9" y1="545.71" x2="325.7" y2="545.71" stroke="#262626" stroke-width="0.9"/>
<text x="319.2" y="548.1" font-size="6.65" text-anchor="end" class="l">6q23.3&#8211;q24.1</text>
<line x1="322.9" y1="555.08" x2="325.7" y2="555.08" stroke="#262626" stroke-width="0.9"/>
<text x="319.2" y="557.47" font-size="6.65" text-anchor="end" class="l">7q31.31&#8211;q32.3</text>
<line x1="322.9" y1="564.45" x2="325.7" y2="564.45" stroke="#262626" stroke-width="0.9"/>
<text x="319.2" y="566.84" font-size="6.65" text-anchor="end" class="l">8p</text>
<line x1="322.9" y1="573.82" x2="325.7" y2="573.82" stroke="#262626" stroke-width="0.9"/>
<text x="319.2" y="576.21" font-size="6.65" text-anchor="end" class="l">12q21.33&#8211;q23.1</text>
<line x1="322.9" y1="583.19" x2="325.7" y2="583.19" stroke="#262626" stroke-width="0.9"/>
<text x="319.2" y="585.58" font-size="6.65" text-anchor="end" class="l">13q32.2</text>
<line x1="322.9" y1="592.56" x2="325.7" y2="592.56" stroke="#262626" stroke-width="0.9"/>
<text x="319.2" y="594.95" font-size="6.65" text-anchor="end" class="l">17p13.3&#8211;p13.1</text>
<line x1="322.9" y1="601.93" x2="325.7" y2="601.93" stroke="#262626" stroke-width="0.9"/>
<text x="319.2" y="604.32" font-size="6.65" text-anchor="end" class="l">19p13.3&#8211;p12</text>
<rect x="327.5" y="513.5" width="4" height="8.2" fill="#0F4E92"/>
<rect x="327.5" y="522.87" width="6" height="8.2" fill="#0F4E92"/>
<rect x="327.5" y="532.24" width="6" height="8.2" fill="#0F4E92"/>
<rect x="327.5" y="541.61" width="5" height="8.2" fill="#0F4E92"/>
<rect x="327.5" y="550.98" width="12.5" height="8.2" fill="#0F4E92"/>
<rect x="327.5" y="560.35" width="6" height="8.2" fill="#0F4E92"/>
<rect x="327.5" y="569.72" width="1.5" height="8.2" fill="#0F4E92"/>
<rect x="327.5" y="579.09" width="1.5" height="8.2" fill="#0F4E92"/>
<rect x="327.5" y="588.46" width="8" height="8.2" fill="#0F4E92"/>
<rect x="374.8" y="513.5" width="7.5" height="8.2" fill="#0F4E92"/>
<rect x="374.8" y="522.87" width="3.7" height="8.2" fill="#0F4E92"/>
<rect x="374.8" y="532.24" width="5.5" height="8.2" fill="#0F4E92"/>
<rect x="374.8" y="541.61" width="7.5" height="8.2" fill="#0F4E92"/>
<rect x="374.8" y="560.35" width="1.7" height="8.2" fill="#0F4E92"/>
<rect x="374.8" y="569.72" width="7.5" height="8.2" fill="#0F4E92"/>
<rect x="374.8" y="579.09" width="1.5" height="8.2" fill="#0F4E92"/>
<rect x="374.8" y="588.46" width="1.5" height="8.2" fill="#0F4E92"/>
<rect x="374.8" y="597.83" width="7.5" height="8.2" fill="#0F4E92"/>
<rect x="422.1" y="513.5" width="5" height="8.2" fill="#0F4E92"/>
<rect x="422.1" y="522.87" width="5" height="8.2" fill="#0F4E92"/>
<rect x="422.1" y="532.24" width="6.7" height="8.2" fill="#0F4E92"/>
<rect x="422.1" y="541.61" width="14.5" height="8.2" fill="#0F4E92"/>
<rect x="422.1" y="550.98" width="1.3" height="8.2" fill="#0F4E92"/>
<rect x="422.1" y="560.35" width="1" height="8.2" fill="#0F4E92"/>
<rect x="422.1" y="569.72" width="3" height="8.2" fill="#0F4E92"/>
<rect x="422.1" y="579.09" width="7.5" height="8.2" fill="#0F4E92"/>
<rect x="422.1" y="588.46" width="3" height="8.2" fill="#0F4E92"/>
<rect x="469.4" y="513.5" width="1.7" height="8.2" fill="#0F4E92"/>
<rect x="469.4" y="522.87" width="1.7" height="8.2" fill="#0F4E92"/>
<rect x="469.4" y="541.61" width="6.2" height="8.2" fill="#0F4E92"/>
<rect x="469.4" y="588.46" width="6" height="8.2" fill="#0F4E92"/>
<line x1="325.7" y1="607.6" x2="369.2" y2="607.6" stroke="#333" stroke-width="1.3"/>
<line x1="327.5" y1="607.6" x2="327.5" y2="610.6" stroke="#333" stroke-width="1"/>
<text x="327.5" y="619.8" font-size="6.4" text-anchor="middle">0</text>
<line x1="337.5" y1="607.6" x2="337.5" y2="610.6" stroke="#333" stroke-width="1"/>
<text x="337.5" y="619.8" font-size="6.4" text-anchor="middle">20</text>
<line x1="347.5" y1="607.6" x2="347.5" y2="610.6" stroke="#333" stroke-width="1"/>
<text x="347.5" y="619.8" font-size="6.4" text-anchor="middle">40</text>
<line x1="357.5" y1="607.6" x2="357.5" y2="610.6" stroke="#333" stroke-width="1"/>
<text x="357.5" y="619.8" font-size="6.4" text-anchor="middle">60</text>
<line x1="367.5" y1="607.6" x2="367.5" y2="610.6" stroke="#333" stroke-width="1"/>
<text x="367.5" y="619.8" font-size="6.4" text-anchor="middle">80</text>
<line x1="373" y1="607.6" x2="416.5" y2="607.6" stroke="#333" stroke-width="1.3"/>
<line x1="374.8" y1="607.6" x2="374.8" y2="610.6" stroke="#333" stroke-width="1"/>
<text x="374.8" y="619.8" font-size="6.4" text-anchor="middle">0</text>
<line x1="384.8" y1="607.6" x2="384.8" y2="610.6" stroke="#333" stroke-width="1"/>
<text x="384.8" y="619.8" font-size="6.4" text-anchor="middle">20</text>
<line x1="394.8" y1="607.6" x2="394.8" y2="610.6" stroke="#333" stroke-width="1"/>
<text x="394.8" y="619.8" font-size="6.4" text-anchor="middle">40</text>
<line x1="404.8" y1="607.6" x2="404.8" y2="610.6" stroke="#333" stroke-width="1"/>
<text x="404.8" y="619.8" font-size="6.4" text-anchor="middle">60</text>
<line x1="414.8" y1="607.6" x2="414.8" y2="610.6" stroke="#333" stroke-width="1"/>
<text x="414.8" y="619.8" font-size="6.4" text-anchor="middle">80</text>
<line x1="420.3" y1="607.6" x2="463.8" y2="607.6" stroke="#333" stroke-width="1.3"/>
<line x1="422.1" y1="607.6" x2="422.1" y2="610.6" stroke="#333" stroke-width="1"/>
<text x="422.1" y="619.8" font-size="6.4" text-anchor="middle">0</text>
<line x1="432.1" y1="607.6" x2="432.1" y2="610.6" stroke="#333" stroke-width="1"/>
<text x="432.1" y="619.8" font-size="6.4" text-anchor="middle">20</text>
<line x1="442.1" y1="607.6" x2="442.1" y2="610.6" stroke="#333" stroke-width="1"/>
<text x="442.1" y="619.8" font-size="6.4" text-anchor="middle">40</text>
<line x1="452.1" y1="607.6" x2="452.1" y2="610.6" stroke="#333" stroke-width="1"/>
<text x="452.1" y="619.8" font-size="6.4" text-anchor="middle">60</text>
<line x1="462.1" y1="607.6" x2="462.1" y2="610.6" stroke="#333" stroke-width="1"/>
<text x="462.1" y="619.8" font-size="6.4" text-anchor="middle">80</text>
<line x1="467.6" y1="607.6" x2="511.1" y2="607.6" stroke="#333" stroke-width="1.3"/>
<line x1="469.4" y1="607.6" x2="469.4" y2="610.6" stroke="#333" stroke-width="1"/>
<text x="469.4" y="619.8" font-size="6.4" text-anchor="middle">0</text>
<line x1="479.4" y1="607.6" x2="479.4" y2="610.6" stroke="#333" stroke-width="1"/>
<text x="479.4" y="619.8" font-size="6.4" text-anchor="middle">20</text>
<line x1="489.4" y1="607.6" x2="489.4" y2="610.6" stroke="#333" stroke-width="1"/>
<text x="489.4" y="619.8" font-size="6.4" text-anchor="middle">40</text>
<line x1="499.4" y1="607.6" x2="499.4" y2="610.6" stroke="#333" stroke-width="1"/>
<text x="499.4" y="619.8" font-size="6.4" text-anchor="middle">60</text>
<line x1="509.4" y1="607.6" x2="509.4" y2="610.6" stroke="#333" stroke-width="1"/>
<text x="509.4" y="619.8" font-size="6.4" text-anchor="middle">80</text>
<text x="419.3" y="631.5" font-size="7.6" text-anchor="middle" textLength="33" lengthAdjust="spacingAndGlyphs" class="c">% of tumors</text>
<text class="c" transform="translate(265.9 559.8) rotate(-90)" font-size="7.8" text-anchor="middle" textLength="23.7" lengthAdjust="spacingAndGlyphs">Deletions</text>
<text x="7" y="15" font-size="11.6" font-weight="bold" fill="#111">A</text>
<line x1="44.6" y1="26.3" x2="515.2" y2="26.3" stroke="#e2e2e2" stroke-width="0.6"/>
<line x1="44.6" y1="52.15" x2="515.2" y2="52.15" stroke="#e2e2e2" stroke-width="0.6"/>
<line x1="44.6" y1="78" x2="515.2" y2="78" stroke="#e2e2e2" stroke-width="0.6"/>
<line x1="44.6" y1="103.85" x2="515.2" y2="103.85" stroke="#e2e2e2" stroke-width="0.6"/>
<line x1="44.6" y1="129.7" x2="515.2" y2="129.7" stroke="#e2e2e2" stroke-width="0.6"/>
<line x1="44.6" y1="39.22" x2="515.2" y2="39.22" stroke="#ececec" stroke-width="0.5"/>
<line x1="44.6" y1="65.08" x2="515.2" y2="65.08" stroke="#ececec" stroke-width="0.5"/>
<line x1="44.6" y1="90.92" x2="515.2" y2="90.92" stroke="#ececec" stroke-width="0.5"/>
<line x1="44.6" y1="116.78" x2="515.2" y2="116.78" stroke="#ececec" stroke-width="0.5"/>
<line x1="89.08" y1="21.6" x2="89.08" y2="134.3" stroke="#e2e2e2" stroke-width="0.6" stroke-dasharray="1 1"/>
<line x1="89.08" y1="136.7" x2="89.08" y2="192.8" stroke="#e2e2e2" stroke-width="0.6" stroke-dasharray="1 1"/>
<line x1="127.99" y1="21.6" x2="127.99" y2="134.3" stroke="#e2e2e2" stroke-width="0.6" stroke-dasharray="1 1"/>
<line x1="127.99" y1="136.7" x2="127.99" y2="192.8" stroke="#e2e2e2" stroke-width="0.6" stroke-dasharray="1 1"/>
<line x1="159.67" y1="21.6" x2="159.67" y2="134.3" stroke="#e2e2e2" stroke-width="0.6" stroke-dasharray="1 1"/>
<line x1="159.67" y1="136.7" x2="159.67" y2="192.8" stroke="#e2e2e2" stroke-width="0.6" stroke-dasharray="1 1"/>
<line x1="190.26" y1="21.6" x2="190.26" y2="134.3" stroke="#e2e2e2" stroke-width="0.6" stroke-dasharray="1 1"/>
<line x1="190.26" y1="136.7" x2="190.26" y2="192.8" stroke="#e2e2e2" stroke-width="0.6" stroke-dasharray="1 1"/>
<line x1="219.2" y1="21.6" x2="219.2" y2="134.3" stroke="#e2e2e2" stroke-width="0.6" stroke-dasharray="1 1"/>
<line x1="219.2" y1="136.7" x2="219.2" y2="192.8" stroke="#e2e2e2" stroke-width="0.6" stroke-dasharray="1 1"/>
<line x1="246.58" y1="21.6" x2="246.58" y2="134.3" stroke="#e2e2e2" stroke-width="0.6" stroke-dasharray="1 1"/>
<line x1="246.58" y1="136.7" x2="246.58" y2="192.8" stroke="#e2e2e2" stroke-width="0.6" stroke-dasharray="1 1"/>
<line x1="272.03" y1="21.6" x2="272.03" y2="134.3" stroke="#e2e2e2" stroke-width="0.6" stroke-dasharray="1 1"/>
<line x1="272.03" y1="136.7" x2="272.03" y2="192.8" stroke="#e2e2e2" stroke-width="0.6" stroke-dasharray="1 1"/>
<line x1="295.46" y1="21.6" x2="295.46" y2="134.3" stroke="#e2e2e2" stroke-width="0.6" stroke-dasharray="1 1"/>
<line x1="295.46" y1="136.7" x2="295.46" y2="192.8" stroke="#e2e2e2" stroke-width="0.6" stroke-dasharray="1 1"/>
<line x1="318.05" y1="21.6" x2="318.05" y2="134.3" stroke="#e2e2e2" stroke-width="0.6" stroke-dasharray="1 1"/>
<line x1="318.05" y1="136.7" x2="318.05" y2="192.8" stroke="#e2e2e2" stroke-width="0.6" stroke-dasharray="1 1"/>
<line x1="339.73" y1="21.6" x2="339.73" y2="134.3" stroke="#e2e2e2" stroke-width="0.6" stroke-dasharray="1 1"/>
<line x1="339.73" y1="136.7" x2="339.73" y2="192.8" stroke="#e2e2e2" stroke-width="0.6" stroke-dasharray="1 1"/>
<line x1="361.33" y1="21.6" x2="361.33" y2="134.3" stroke="#e2e2e2" stroke-width="0.6" stroke-dasharray="1 1"/>
<line x1="361.33" y1="136.7" x2="361.33" y2="192.8" stroke="#e2e2e2" stroke-width="0.6" stroke-dasharray="1 1"/>
<line x1="382.74" y1="21.6" x2="382.74" y2="134.3" stroke="#e2e2e2" stroke-width="0.6" stroke-dasharray="1 1"/>
<line x1="382.74" y1="136.7" x2="382.74" y2="192.8" stroke="#e2e2e2" stroke-width="0.6" stroke-dasharray="1 1"/>
<line x1="401.18" y1="21.6" x2="401.18" y2="134.3" stroke="#e2e2e2" stroke-width="0.6" stroke-dasharray="1 1"/>
<line x1="401.18" y1="136.7" x2="401.18" y2="192.8" stroke="#e2e2e2" stroke-width="0.6" stroke-dasharray="1 1"/>
<line x1="418.34" y1="21.6" x2="418.34" y2="134.3" stroke="#e2e2e2" stroke-width="0.6" stroke-dasharray="1 1"/>
<line x1="418.34" y1="136.7" x2="418.34" y2="192.8" stroke="#e2e2e2" stroke-width="0.6" stroke-dasharray="1 1"/>
<line x1="434.74" y1="21.6" x2="434.74" y2="134.3" stroke="#e2e2e2" stroke-width="0.6" stroke-dasharray="1 1"/>
<line x1="434.74" y1="136.7" x2="434.74" y2="192.8" stroke="#e2e2e2" stroke-width="0.6" stroke-dasharray="1 1"/>
<line x1="449.2" y1="21.6" x2="449.2" y2="134.3" stroke="#e2e2e2" stroke-width="0.6" stroke-dasharray="1 1"/>
<line x1="449.2" y1="136.7" x2="449.2" y2="192.8" stroke="#e2e2e2" stroke-width="0.6" stroke-dasharray="1 1"/>
<line x1="462.19" y1="21.6" x2="462.19" y2="134.3" stroke="#e2e2e2" stroke-width="0.6" stroke-dasharray="1 1"/>
<line x1="462.19" y1="136.7" x2="462.19" y2="192.8" stroke="#e2e2e2" stroke-width="0.6" stroke-dasharray="1 1"/>
<line x1="474.69" y1="21.6" x2="474.69" y2="134.3" stroke="#e2e2e2" stroke-width="0.6" stroke-dasharray="1 1"/>
<line x1="474.69" y1="136.7" x2="474.69" y2="192.8" stroke="#e2e2e2" stroke-width="0.6" stroke-dasharray="1 1"/>
<line x1="484.14" y1="21.6" x2="484.14" y2="134.3" stroke="#e2e2e2" stroke-width="0.6" stroke-dasharray="1 1"/>
<line x1="484.14" y1="136.7" x2="484.14" y2="192.8" stroke="#e2e2e2" stroke-width="0.6" stroke-dasharray="1 1"/>
<line x1="494.22" y1="21.6" x2="494.22" y2="134.3" stroke="#e2e2e2" stroke-width="0.6" stroke-dasharray="1 1"/>
<line x1="494.22" y1="136.7" x2="494.22" y2="192.8" stroke="#e2e2e2" stroke-width="0.6" stroke-dasharray="1 1"/>
<line x1="501.92" y1="21.6" x2="501.92" y2="134.3" stroke="#e2e2e2" stroke-width="0.6" stroke-dasharray="1 1"/>
<line x1="501.92" y1="136.7" x2="501.92" y2="192.8" stroke="#e2e2e2" stroke-width="0.6" stroke-dasharray="1 1"/>
<line x1="44.6" y1="190.4" x2="515.2" y2="190.4" stroke="#e2e2e2" stroke-width="0.6"/>
<line x1="44.6" y1="177.38" x2="515.2" y2="177.38" stroke="#e2e2e2" stroke-width="0.6"/>
<line x1="44.6" y1="164.35" x2="515.2" y2="164.35" stroke="#e2e2e2" stroke-width="0.6"/>
<line x1="44.6" y1="151.32" x2="515.2" y2="151.32" stroke="#e2e2e2" stroke-width="0.6"/>
<line x1="44.6" y1="138.3" x2="515.2" y2="138.3" stroke="#e2e2e2" stroke-width="0.6"/>
<line x1="44.6" y1="183.89" x2="515.2" y2="183.89" stroke="#ececec" stroke-width="0.5"/>
<line x1="44.6" y1="170.86" x2="515.2" y2="170.86" stroke="#ececec" stroke-width="0.5"/>
<line x1="44.6" y1="157.84" x2="515.2" y2="157.84" stroke="#ececec" stroke-width="0.5"/>
<line x1="44.6" y1="144.81" x2="515.2" y2="144.81" stroke="#ececec" stroke-width="0.5"/>
<rect x="52.39" y="76.5" width="1.12" height="1.5" fill="#E4646B"/>
<rect x="54.77" y="76.5" width="1.05" height="1.5" fill="#E4646B"/>
<rect x="58" y="77" width="1" height="1" fill="#E4646B"/>
<rect x="60.5" y="77" width="0.8" height="1" fill="#E4646B"/>
<rect x="63.5" y="75.5" width="0.8" height="2.5" fill="#E4646B"/>
<rect x="67.6" y="74.5" width="0.9" height="3.5" fill="#E4646B"/>
<rect x="72.64" y="74" width="1.42" height="4" fill="#E4646B"/>
<rect x="74.8" y="73" width="1" height="5" fill="#E4646B"/>
<rect x="76.89" y="72" width="1.12" height="6" fill="#E4646B"/>
<rect x="88.89" y="72" width="1.12" height="6" fill="#E4646B"/>
<rect x="93.19" y="73.7" width="1.12" height="4.3" fill="#E4646B"/>
<rect x="95.8" y="72" width="0.9" height="6" fill="#E4646B"/>
<rect x="97.94" y="72.5" width="1.42" height="5.5" fill="#E4646B"/>
<rect x="108.99" y="76.5" width="1.46" height="1.5" fill="#E4646B"/>
<rect x="124.6" y="77" width="1" height="1" fill="#E4646B"/>
<rect x="178" y="76" width="0.8" height="2" fill="#E4646B"/>
<rect x="181.2" y="76" width="0.8" height="2" fill="#E4646B"/>
<rect x="189.99" y="72" width="1.12" height="6" fill="#E4646B"/>
<rect x="197.25" y="72" width="1.5" height="6" fill="#E4646B"/>
<rect x="203.93" y="72" width="1.09" height="6" fill="#E4646B"/>
<rect x="212.2" y="72.2" width="1" height="5.8" fill="#E4646B"/>
<rect x="219.2" y="69.3" width="0.7" height="8.7" fill="#E4646B"/>
<rect x="223.75" y="72" width="0.95" height="6" fill="#E4646B"/>
<rect x="247.54" y="70.3" width="1.42" height="7.7" fill="#E4646B"/>
<rect x="249.5" y="72" width="1" height="6" fill="#E4646B"/>
<rect x="258.7" y="72" width="0.9" height="6" fill="#E4646B"/>
<rect x="261.19" y="72" width="1.12" height="6" fill="#E4646B"/>
<rect x="263.5" y="72" width="0.9" height="6" fill="#E4646B"/>
<rect x="272.03" y="74" width="2.55" height="4" fill="#E4646B"/>
<rect x="276.24" y="74" width="1.42" height="4" fill="#E4646B"/>
<rect x="279.98" y="73" width="1.09" height="5" fill="#E4646B"/>
<rect x="281.89" y="74" width="1.12" height="4" fill="#E4646B"/>
<rect x="285.84" y="74" width="1.42" height="4" fill="#E4646B"/>
<rect x="294.39" y="74" width="1.12" height="4" fill="#E4646B"/>
<rect x="295.8" y="73.7" width="0.8" height="4.3" fill="#E4646B"/>
<rect x="297" y="74" width="1" height="4" fill="#E4646B"/>
<rect x="316.37" y="73.2" width="1.05" height="4.8" fill="#E4646B"/>
<rect x="317.78" y="69.3" width="1.05" height="8.7" fill="#E4646B"/>
<rect x="325.04" y="67" width="1.42" height="11" fill="#E4646B"/>
<rect x="332.19" y="73.2" width="1.12" height="4.8" fill="#E4646B"/>
<rect x="338.93" y="61" width="1.09" height="17" fill="#E4646B"/>
<rect x="361.24" y="70" width="1.42" height="8" fill="#E4646B"/>
<rect x="367.44" y="68" width="1.43" height="10" fill="#E4646B"/>
<rect x="371.19" y="69" width="1.12" height="9" fill="#E4646B"/>
<rect x="375.57" y="69" width="1.05" height="9" fill="#E4646B"/>
<rect x="382.29" y="67.5" width="1.12" height="10.5" fill="#E4646B"/>
<rect x="385.15" y="77" width="1" height="1" fill="#E4646B"/>
<rect x="400.85" y="72" width="1" height="6" fill="#E4646B"/>
<rect x="407.6" y="76" width="1.2" height="2" fill="#E4646B"/>
<rect x="411.45" y="76.5" width="1" height="1.5" fill="#E4646B"/>
<rect x="418.1" y="70" width="0.7" height="8" fill="#E4646B"/>
<rect x="430.59" y="72" width="1.12" height="6" fill="#E4646B"/>
<rect x="434.2" y="64.5" width="1.2" height="13.5" fill="#E4646B"/>
<rect x="440" y="73.4" width="0.8" height="4.6" fill="#E4646B"/>
<rect x="457" y="76" width="0.8" height="2" fill="#E4646B"/>
<rect x="460" y="76" width="0.8" height="2" fill="#E4646B"/>
<rect x="463" y="69.5" width="1" height="8.5" fill="#E4646B"/>
<rect x="469.93" y="58.7" width="1.35" height="19.3" fill="#E4646B"/>
<rect x="478" y="76" width="0.8" height="2" fill="#E4646B"/>
<rect x="480.8" y="75.7" width="1.2" height="2.3" fill="#E4646B"/>
<rect x="491.19" y="76.5" width="1.12" height="1.5" fill="#E4646B"/>
<rect x="493.6" y="76" width="1.8" height="2" fill="#E4646B"/>
<rect x="496" y="75.5" width="1.2" height="2.5" fill="#E4646B"/>
<rect x="498.5" y="76" width="1" height="2" fill="#E4646B"/>
<rect x="500.85" y="72.1" width="1" height="5.9" fill="#E4646B"/>
<rect x="510.1" y="76.5" width="0.9" height="1.5" fill="#E4646B"/>
<rect x="127.8" y="52.6" width="3.1" height="25.4" fill="#EA7074"/>
<rect x="131.9" y="52.3" width="3.9" height="25.7" fill="#E2555B"/>
<rect x="135.9" y="52.3" width="2.2" height="25.7" fill="#F5BBAA"/>
<rect x="138.5" y="51.3" width="1.4" height="26.7" fill="#CC3A48"/>
<rect x="141" y="54.2" width="1" height="23.8" fill="#D45868"/>
<rect x="142.8" y="54.5" width="1.1" height="23.5" fill="#CC4A5A"/>
<rect x="145" y="54.5" width="1.1" height="23.5" fill="#CC5A68"/>
<rect x="152.8" y="54.9" width="2.3" height="23.1" fill="#D0484C"/>
<rect x="156.7" y="54.9" width="1.3" height="23.1" fill="#D45A5E"/>
<rect x="82.4" y="78" width="1.2" height="4.2" fill="#3F73B0"/>
<rect x="85.88" y="78" width="1.44" height="4.8" fill="#3F73B0"/>
<rect x="111.2" y="78" width="7.6" height="2" fill="#3F73B0"/>
<rect x="112.5" y="78" width="1" height="4" fill="#3F73B0"/>
<rect x="128.25" y="78" width="0.9" height="1.5" fill="#3F73B0"/>
<rect x="144" y="78" width="0.8" height="1" fill="#3F73B0"/>
<rect x="158.5" y="78" width="0.7" height="1" fill="#3F73B0"/>
<rect x="184.5" y="78" width="1" height="1.5" fill="#3F73B0"/>
<rect x="227" y="78" width="4" height="2" fill="#3F73B0"/>
<rect x="264.9" y="78" width="8.1" height="1.6" fill="#3F73B0"/>
<rect x="280.8" y="78" width="5.2" height="1.6" fill="#3F73B0"/>
<rect x="296" y="78" width="6.7" height="2" fill="#3F73B0"/>
<rect x="307" y="78" width="10.6" height="2" fill="#3F73B0"/>
<rect x="328.3" y="78" width="0.7" height="2" fill="#3F73B0"/>
<rect x="336.15" y="78" width="0.9" height="3" fill="#3F73B0"/>
<rect x="343.08" y="78" width="1.14" height="1" fill="#3F73B0"/>
<rect x="352.8" y="78" width="3.2" height="1.5" fill="#3F73B0"/>
<rect x="390.4" y="78" width="1.2" height="1.5" fill="#3F73B0"/>
<rect x="398.4" y="78" width="1.2" height="1.5" fill="#3F73B0"/>
<rect x="404.78" y="78" width="1.14" height="1.5" fill="#3F73B0"/>
<rect x="416.08" y="78" width="1.14" height="3.8" fill="#3F73B0"/>
<rect x="421.88" y="78" width="1.44" height="2" fill="#3F73B0"/>
<rect x="425.3" y="78" width="0.9" height="1" fill="#3F73B0"/>
<rect x="449.9" y="78" width="4.1" height="6.8" fill="#3F73B0"/>
<rect x="463.92" y="78" width="1.56" height="1.8" fill="#3F73B0"/>
<rect x="141.5" y="78" width="0.8" height="5" fill="#8E9BB0"/>
<rect x="278.5" y="78" width="0.7" height="5.5" fill="#8EA3C0"/>
<rect x="339.5" y="78" width="0.6" height="4" fill="#8E9BB0"/>
<rect x="382.3" y="78" width="0.7" height="10" fill="#98A8C0"/>
<rect x="418" y="78" width="0.9" height="49.7" fill="#8293AE"/>
<rect x="477" y="78" width="0.6" height="4" fill="#A0A8B8"/>
<rect x="502" y="78" width="1.5" height="25.5" fill="#7A9CC8"/>
<rect x="241" y="78" width="5.3" height="5.8" fill="#5A80B2"/>
<rect x="505.8" y="78" width="1.2" height="15" fill="#6E8CB4"/>
<text transform="translate(132.87 49.6) rotate(-90)" font-size="3.8" fill="#5a5a5a" stroke="none" textLength="13.8" lengthAdjust="spacingAndGlyphs">MYD88</text>
<text transform="translate(136.57 49.6) rotate(-90)" font-size="3.8" fill="#5a5a5a" stroke="none" textLength="16.9" lengthAdjust="spacingAndGlyphs">CTNNB1</text>
<text transform="translate(140.67 49.6) rotate(-90)" font-size="3.8" fill="#5a5a5a" stroke="none" textLength="12.3" lengthAdjust="spacingAndGlyphs">RHOA</text>
<text transform="translate(144.87 49.6) rotate(-90)" font-size="3.8" fill="#5a5a5a" stroke="none" textLength="14.6" lengthAdjust="spacingAndGlyphs">NFKBIZ</text>
<text transform="translate(149.37 52.3) rotate(-90)" font-size="3.8" fill="#5a5a5a" stroke="none" textLength="29.3" lengthAdjust="spacingAndGlyphs">FOXL2, GATA2</text>
<text transform="translate(157.77 52.7) rotate(-90)" font-size="3.8" fill="#5a5a5a" stroke="none" textLength="29.2" lengthAdjust="spacingAndGlyphs">BCL6, PRKCI</text>
<text transform="translate(252.57 49.6) rotate(-90)" font-size="3.8" fill="#5a5a5a" stroke="none" textLength="16.9" lengthAdjust="spacingAndGlyphs">CARD11</text>
<text transform="translate(366.97 49.4) rotate(-90)" font-size="3.8" fill="#5a5a5a" stroke="none" textLength="10.7" lengthAdjust="spacingAndGlyphs">KRAS</text>
<text transform="translate(376.97 49.4) rotate(-90)" font-size="3.8" fill="#5a5a5a" stroke="none" textLength="15.3" lengthAdjust="spacingAndGlyphs">PTPN11</text>
<text transform="translate(468.07 48.8) rotate(-90)" font-size="3.8" fill="#5a5a5a" stroke="none" textLength="15.3" lengthAdjust="spacingAndGlyphs">SETBP1</text>
<text transform="translate(474.67 48.8) rotate(-90)" font-size="3.8" fill="#5a5a5a" stroke="none" textLength="9.8" lengthAdjust="spacingAndGlyphs">BCL2</text>
<text transform="translate(242.87 128) rotate(-90)" font-size="3.8" fill="#5a5a5a" stroke="none" textLength="17.2" lengthAdjust="spacingAndGlyphs">TNFAIP3</text>
<text transform="translate(453.57 128) rotate(-90)" font-size="3.8" fill="#5a5a5a" stroke="none" textLength="28" lengthAdjust="spacingAndGlyphs">TP63, NCOR1</text>
<rect x="220.2" y="169.2" width="2" height="21.2" fill="#4A2A7C"/>
<rect x="245.8" y="169.2" width="2" height="21.2" fill="#4A2A7C"/>
<rect x="280.2" y="169.2" width="2" height="21.2" fill="#4A2A7C"/>
<rect x="326.1" y="169.2" width="2" height="21.2" fill="#4A2A7C"/>
<rect x="44.6" y="21.6" width="470.6" height="112.7" fill="none" stroke="#262626" stroke-width="1.1"/>
<rect x="44.6" y="136.7" width="470.6" height="56.1" fill="none" stroke="#262626" stroke-width="1.1"/>
<line x1="41.8" y1="26.3" x2="44.6" y2="26.3" stroke="#262626" stroke-width="0.9"/>
<text x="38.8" y="28.6" font-size="6.4" text-anchor="end">1.0</text>
<line x1="41.8" y1="52.15" x2="44.6" y2="52.15" stroke="#262626" stroke-width="0.9"/>
<text x="38.8" y="54.45" font-size="6.4" text-anchor="end">0.5</text>
<line x1="41.8" y1="78" x2="44.6" y2="78" stroke="#262626" stroke-width="0.9"/>
<text x="38.8" y="80.3" font-size="6.4" text-anchor="end">0.0</text>
<line x1="41.8" y1="103.85" x2="44.6" y2="103.85" stroke="#262626" stroke-width="0.9"/>
<text x="38.8" y="106.15" font-size="6.4" text-anchor="end">&#8722;0.5</text>
<line x1="41.8" y1="129.7" x2="44.6" y2="129.7" stroke="#262626" stroke-width="0.9"/>
<text x="38.8" y="132" font-size="6.4" text-anchor="end">&#8722;1.0</text>
<line x1="41.8" y1="190.4" x2="44.6" y2="190.4" stroke="#262626" stroke-width="0.9"/>
<text x="38.8" y="192.7" font-size="6.4" text-anchor="end">0.000</text>
<line x1="41.8" y1="177.38" x2="44.6" y2="177.38" stroke="#262626" stroke-width="0.9"/>
<text x="38.8" y="179.68" font-size="6.4" text-anchor="end">0.025</text>
<line x1="41.8" y1="164.35" x2="44.6" y2="164.35" stroke="#262626" stroke-width="0.9"/>
<text x="38.8" y="166.65" font-size="6.4" text-anchor="end">0.050</text>
<line x1="41.8" y1="151.32" x2="44.6" y2="151.32" stroke="#262626" stroke-width="0.9"/>
<text x="38.8" y="153.62" font-size="6.4" text-anchor="end">0.075</text>
<line x1="41.8" y1="138.3" x2="44.6" y2="138.3" stroke="#262626" stroke-width="0.9"/>
<text x="38.8" y="140.6" font-size="6.4" text-anchor="end">0.100</text>
<line x1="69.14" y1="192.8" x2="69.14" y2="195.4" stroke="#262626" stroke-width="0.9"/>
<text x="69.14" y="204.8" font-size="6" text-anchor="middle">1</text>
<line x1="108.54" y1="192.8" x2="108.54" y2="195.4" stroke="#262626" stroke-width="0.9"/>
<text x="108.54" y="204.8" font-size="6" text-anchor="middle">2</text>
<line x1="143.83" y1="192.8" x2="143.83" y2="195.4" stroke="#262626" stroke-width="0.9"/>
<text x="143.83" y="204.8" font-size="6" text-anchor="middle">3</text>
<line x1="174.96" y1="192.8" x2="174.96" y2="195.4" stroke="#262626" stroke-width="0.9"/>
<text x="174.96" y="204.8" font-size="6" text-anchor="middle">4</text>
<line x1="204.73" y1="192.8" x2="204.73" y2="195.4" stroke="#262626" stroke-width="0.9"/>
<text x="204.73" y="204.8" font-size="6" text-anchor="middle">5</text>
<line x1="232.89" y1="192.8" x2="232.89" y2="195.4" stroke="#262626" stroke-width="0.9"/>
<text x="232.89" y="204.8" font-size="6" text-anchor="middle">6</text>
<line x1="259.3" y1="192.8" x2="259.3" y2="195.4" stroke="#262626" stroke-width="0.9"/>
<text x="259.3" y="204.8" font-size="6" text-anchor="middle">7</text>
<line x1="283.74" y1="192.8" x2="283.74" y2="195.4" stroke="#262626" stroke-width="0.9"/>
<text x="283.74" y="204.8" font-size="6" text-anchor="middle">8</text>
<line x1="306.75" y1="192.8" x2="306.75" y2="195.4" stroke="#262626" stroke-width="0.9"/>
<text x="306.75" y="204.8" font-size="6" text-anchor="middle">9</text>
<line x1="328.89" y1="192.8" x2="328.89" y2="195.4" stroke="#262626" stroke-width="0.9"/>
<text x="328.89" y="204.8" font-size="6" text-anchor="middle">10</text>
<line x1="350.53" y1="192.8" x2="350.53" y2="195.4" stroke="#262626" stroke-width="0.9"/>
<text x="350.53" y="204.8" font-size="6" text-anchor="middle">11</text>
<line x1="372.04" y1="192.8" x2="372.04" y2="195.4" stroke="#262626" stroke-width="0.9"/>
<text x="372.04" y="204.8" font-size="6" text-anchor="middle">12</text>
<line x1="391.96" y1="192.8" x2="391.96" y2="195.4" stroke="#262626" stroke-width="0.9"/>
<text x="391.96" y="204.8" font-size="6" text-anchor="middle">13</text>
<line x1="409.76" y1="192.8" x2="409.76" y2="195.4" stroke="#262626" stroke-width="0.9"/>
<text x="409.76" y="204.8" font-size="6" text-anchor="middle">14</text>
<line x1="426.54" y1="192.8" x2="426.54" y2="195.4" stroke="#262626" stroke-width="0.9"/>
<text x="426.54" y="204.8" font-size="6" text-anchor="middle">15</text>
<line x1="441.97" y1="192.8" x2="441.97" y2="195.4" stroke="#262626" stroke-width="0.9"/>
<text x="441.97" y="204.8" font-size="6" text-anchor="middle">16</text>
<line x1="455.7" y1="192.8" x2="455.7" y2="195.4" stroke="#262626" stroke-width="0.9"/>
<text x="455.7" y="204.8" font-size="6" text-anchor="middle">17</text>
<line x1="468.44" y1="192.8" x2="468.44" y2="195.4" stroke="#262626" stroke-width="0.9"/>
<text x="468.44" y="204.8" font-size="6" text-anchor="middle">18</text>
<line x1="479.42" y1="192.8" x2="479.42" y2="195.4" stroke="#262626" stroke-width="0.9"/>
<text x="479.42" y="204.8" font-size="6" text-anchor="middle">19</text>
<line x1="489.18" y1="192.8" x2="489.18" y2="195.4" stroke="#262626" stroke-width="0.9"/>
<text x="489.18" y="204.8" font-size="6" text-anchor="middle">20</text>
<line x1="498.07" y1="192.8" x2="498.07" y2="195.4" stroke="#262626" stroke-width="0.9"/>
<text x="498.07" y="204.8" font-size="6" text-anchor="middle">21</text>
<line x1="506.02" y1="192.8" x2="506.02" y2="195.4" stroke="#262626" stroke-width="0.9"/>
<text x="506.02" y="204.8" font-size="6" text-anchor="middle">22</text>
<text x="279.9" y="216.8" font-size="7.6" text-anchor="middle" textLength="33.9" lengthAdjust="spacingAndGlyphs" class="c">Chromosome</text>
<text class="c" transform="translate(19.9 78.1) rotate(-90)" font-size="8.2" text-anchor="middle" textLength="27.4" lengthAdjust="spacingAndGlyphs">Frequency</text>
<text class="c" transform="translate(16.3 164.4) rotate(-90)" font-size="8.2" text-anchor="middle" textLength="27.2" lengthAdjust="spacingAndGlyphs">Frequency</text>
<text x="511" y="30.2" font-size="6.4" text-anchor="end" textLength="38.4" lengthAdjust="spacingAndGlyphs">Amplifications</text>
<text x="511" y="130.8" font-size="6.4" text-anchor="end" textLength="25.5" lengthAdjust="spacingAndGlyphs">Deletions</text>
<text x="511" y="145.3" font-size="6.4" text-anchor="end" textLength="27" lengthAdjust="spacingAndGlyphs">CN LOHs</text>
<line x1="0" y1="0.5" x2="520" y2="0.5" stroke="#555" stroke-width="1"/>
<line x1="0.5" y1="0" x2="0.5" y2="639" stroke="#555" stroke-width="1"/>
<line x1="519.5" y1="0" x2="519.5" y2="639" stroke="#333" stroke-width="1"/>
<line x1="0" y1="638.2" x2="520" y2="638.2" stroke="#333" stroke-width="1.6"/>
</svg>
</body></html>
